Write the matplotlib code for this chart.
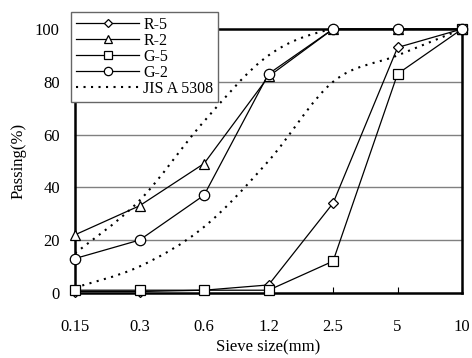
import numpy as np
import matplotlib
matplotlib.use("Agg")
import matplotlib.pyplot as plt
from matplotlib.path import Path
from matplotlib.patches import PathPatch
from matplotlib.lines import Line2D

plt.rcParams['font.family'] = ['Liberation Serif', 'DejaVu Serif']

# data
sieves = ['0.15', '0.3', '0.6', '1.2', '2.5', '5', '10']
r5 = [0.5, 0.5, 1, 3, 34, 93, 100]
r2 = [22, 33, 49, 82, 100, 100, 100]
g5 = [1, 1, 1, 1, 12, 83, 100]
g2 = [13, 20, 37, 83, 100, 100, 100]
jis_upper = [15, 35, 65, 90, 100, 100, 100]
jis_lower = [2, 10, 25, 50, 80, 90, 100]

x = np.arange(len(sieves))


def smooth_path(xs, ys):
    # bezier smoothing like spreadsheet "smoothed line"
    pts = np.column_stack([xs, ys]).astype(float)
    verts = [pts[0]]
    codes = [Path.MOVETO]
    n = len(pts)
    for i in range(n - 1):
        p0 = pts[max(i - 1, 0)]
        p1 = pts[i]
        p2 = pts[i + 1]
        p3 = pts[min(i + 2, n - 1)]
        c1 = p1 + (p2 - p0) / 6.0
        c2 = p2 - (p3 - p1) / 6.0
        verts += [c1, c2, p2]
        codes += [Path.CURVE4] * 3
    return Path(verts, codes)


dots = (0, (1, 2.6))

fig = plt.figure(figsize=(4.72, 3.58), dpi=100)
ax = fig.add_axes([0.159, 0.182, 0.820, 0.737])

for yv in [20, 40, 60, 80]:
    ax.axhline(yv, color='#808080', lw=1.0, zorder=1)

for ys in [jis_upper, jis_lower]:
    ax.add_patch(PathPatch(smooth_path(x, ys), fill=False, ls=dots,
                           lw=1.5, ec='black', zorder=2))

style = dict(color='black', lw=0.9, mfc='white', mec='black', mew=0.9, zorder=3)
ax.plot(x, r5, marker='D', ms=5.5, label='R-5', **style)
ax.plot(x, r2, marker='^', ms=7.5, label='R-2', **style)
ax.plot(x, g5, marker='s', ms=7.5, label='G-5', **style)
ax.plot(x, g2, marker='o', ms=7.5, label='G-2', **style)

ax.set_xlim(0, len(sieves) - 1)
ax.set_ylim(0, 100)
ax.set_xticks(x)
ax.set_xticklabels(sieves)
ax.set_yticks([0, 20, 40, 60, 80, 100])
ax.tick_params(axis='x', direction='in', length=4, pad=19, labelsize=12)
ax.tick_params(axis='y', direction='in', length=0, pad=11, labelsize=12)
for s in ax.spines.values():
    s.set_linewidth(1.8)
ax.set_xlabel('Sieve size(mm)', fontsize=12, labelpad=3)
ax.set_ylabel('Passing(%)', fontsize=12, labelpad=6)
for art in ax.lines:
    art.set_clip_on(False)

handles = ax.get_legend_handles_labels()[0]
handles.append(Line2D([], [], color='black', ls=dots, lw=1.5))
labels = ['R-5', 'R-2', 'G-5', 'G-2', 'JIS A 5308']
leg = fig.legend(handles, labels, loc='upper left', bbox_to_anchor=(0.150, 0.966),
                 bbox_transform=fig.transFigure, borderaxespad=0, fontsize=11.5,
                 handlelength=4.0, handletextpad=0.25, labelspacing=0.0,
                 borderpad=0.3, markerscale=0.8, fancybox=False, framealpha=1,
                 edgecolor='#666666')
leg.get_frame().set_linewidth(1.0)

fig.savefig('out.png', dpi=100)
